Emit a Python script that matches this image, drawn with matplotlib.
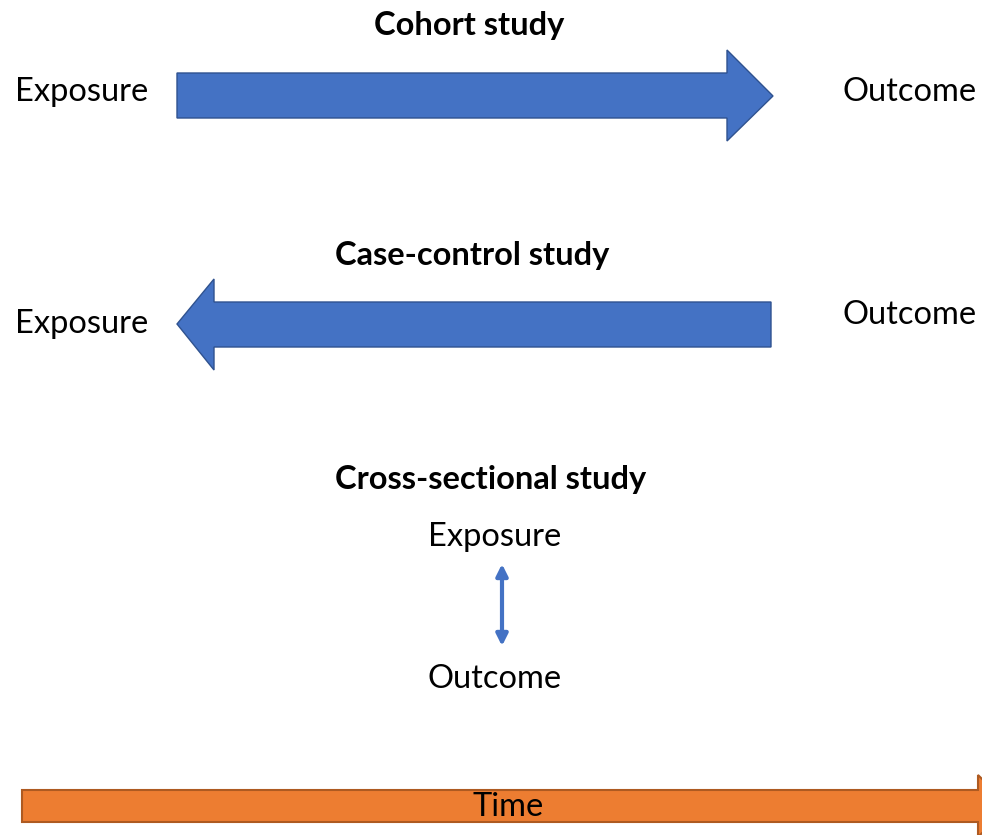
import matplotlib.pyplot as plt
from matplotlib.patches import Polygon, FancyArrowPatch

plt.rcParams['font.family'] = ['Lato', 'DejaVu Sans']

# shapes, in pixel units of the picture (y downwards)
cohort_arrow = [(177, 73), (727, 73), (727, 50), (773, 96), (727, 141), (727, 118), (177, 118)]
casecontrol_arrow = [(771, 302), (214, 302), (214, 279), (177, 324), (214, 370), (214, 347), (771, 347)]
time_arrow = [(22, 790), (978, 790), (978, 775), (1010, 806), (978, 837), (978, 822), (22, 822)]

titles = ['Cohort study', 'Case-control study', 'Cross-sectional study']
title_pos = [(469, 26), (472, 256), (491, 479)]

labels = ['Exposure', 'Outcome', 'Exposure', 'Outcome', 'Exposure', 'Outcome']
label_pos = [(15, 92), (843, 92), (15, 324), (843, 315), (495, 537), (495, 679)]
label_ha = ['left', 'left', 'left', 'left', 'center', 'center']

blue = '#4472C4'
blue_edge = '#2F528F'
orange = '#ED7D31'
orange_edge = '#AE5A21'

fig = plt.figure(figsize=(9.82, 8.35), dpi=100)
ax = fig.add_axes([0, 0, 1, 1])
ax.set_xlim(0, 982)
ax.set_ylim(835, 0)
ax.axis('off')

for pts in [cohort_arrow, casecontrol_arrow]:
    ax.add_patch(Polygon(pts, closed=True, facecolor=blue, edgecolor=blue_edge, linewidth=1))
ax.add_patch(Polygon(time_arrow, closed=True, facecolor=orange, edgecolor=orange_edge, linewidth=1.5))

# double-headed arrow between exposure and outcome
ax.add_patch(FancyArrowPatch((502, 564), (502, 646), arrowstyle='<|-|>', mutation_scale=17,
                             color=blue, linewidth=3, shrinkA=0, shrinkB=0))

for t, (x, y) in zip(titles, title_pos):
    ax.text(x, y, t, ha='center', va='center', fontsize=23.5, fontweight='bold')

for t, (x, y), ha in zip(labels, label_pos, label_ha):
    ax.text(x, y, t, ha=ha, va='center', fontsize=23.5)

ax.text(508, 807, 'Time', ha='center', va='center', fontsize=23.5)

fig.savefig('out.png', dpi=100)
